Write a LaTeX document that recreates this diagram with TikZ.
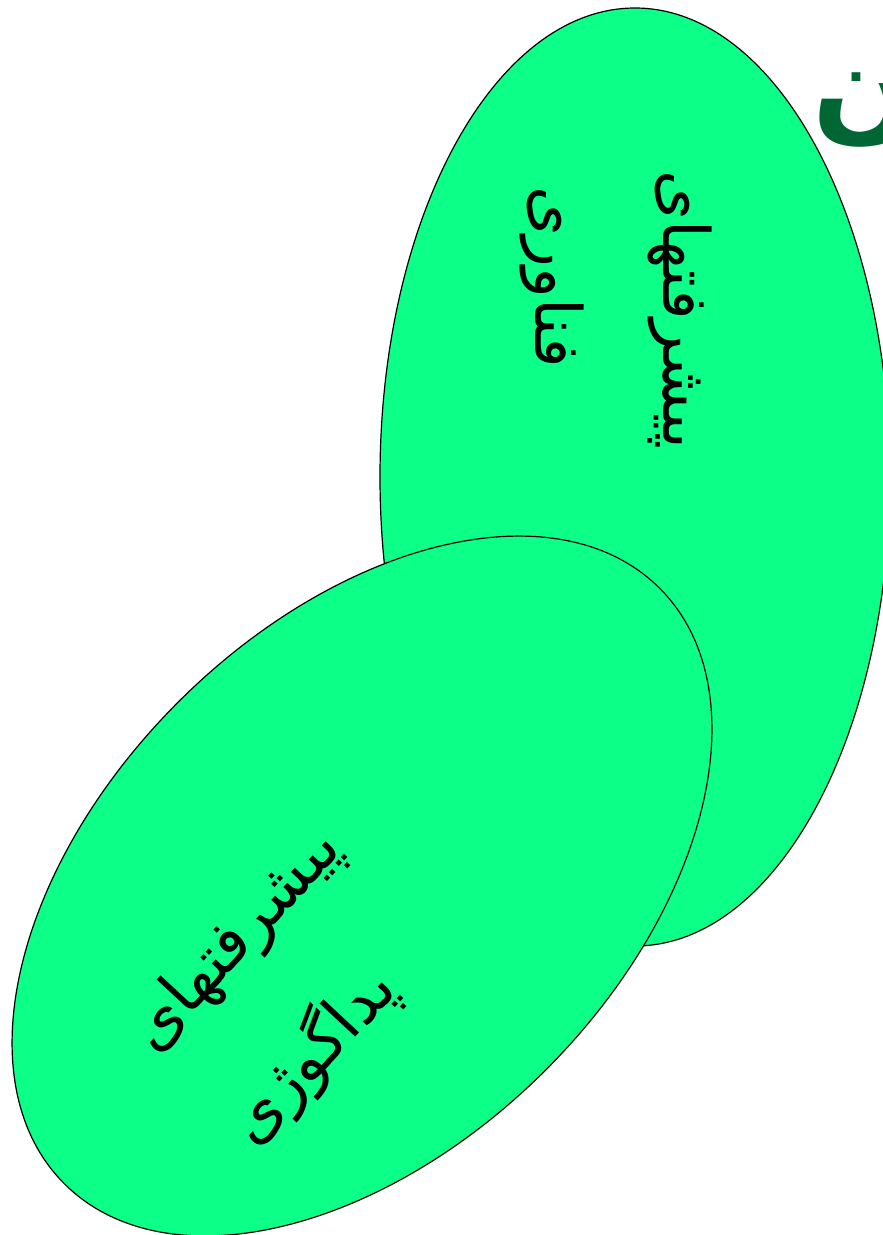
\documentclass[tikz,border=0pt]{standalone}
\usepackage{fontspec}
\usetikzlibrary{shapes.geometric}
\TeXXeTstate=1
\newfontfamily\arabicfont[Script=Arabic]{DejaVu Sans}
\definecolor{fillg}{RGB}{12,255,134}
\definecolor{darkg}{RGB}{0,102,51}
\tikzset{
  blob/.style={ellipse, draw=black, line width=1.2pt, fill=fillg, inner sep=0pt},
  fatext/.style={inner sep=0pt, font=\arabicfont\fontsize{64}{72}\selectfont},
}
\begin{document}
\begin{tikzpicture}[x=1pt,y=1pt]
\useasboundingbox (0,0) rectangle (883,-1235);
\node[font=\arabicfont\bfseries\fontsize{120}{130}\selectfont, text=darkg, inner sep=0pt, anchor=west] (title) at (812,-110) {\beginR ن\endR};
\node[blob, minimum width=510pt, minimum height=938pt] (e1) at (635,-477) {};
\node[blob, minimum width=842pt, minimum height=520pt, rotate=45] (e2) at (362,-886) {};
\node[fatext, rotate=-90] (t1a) at (680,-310) {\beginR پیشرفتهای\endR};
\node[fatext, rotate=-90] (t1b) at (552,-277) {\beginR فناوری\endR};
\node[fatext, rotate=47] (t2a) at (237,-941) {\beginR پیشرفتهای\endR};
\node[fatext, rotate=47] (t2b) at (311,-1055) {\beginR پداگوژی\endR};
\end{tikzpicture}
\end{document}
